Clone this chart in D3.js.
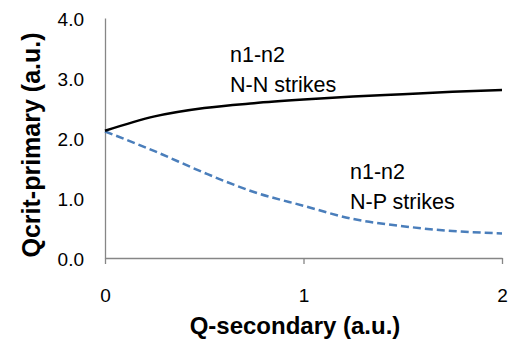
<!DOCTYPE html>
<html><head><meta charset="utf-8">
<script src="https://cdn.jsdelivr.net/npm/d3@7"></script>
<style>html,body{margin:0;padding:0;background:#fff;}svg{display:block;}</style>
</head><body>
<svg id="c" width="508" height="339"></svg>
<script>
const xValues = [0, 0.25, 0.5, 0.75, 1.0, 1.25, 1.5, 1.75, 2.0];
const nnValues = [2.12, 2.36, 2.50, 2.58, 2.64, 2.69, 2.73, 2.77, 2.80];
const npValues = [2.11, 1.78, 1.42, 1.10, 0.87, 0.65, 0.53, 0.45, 0.41];
const xTicks = [0, 1, 2];
const yTicks = [0, 1, 2, 3, 4];
const xTitle = "Q-secondary (a.u.)";
const yTitle = "Qcrit-primary (a.u.)";
const nnLabel = ["n1-n2", "N-N strikes"];
const npLabel = ["n1-n2", "N-P strikes"];

const svg = d3.select("#c");
const font = "'Liberation Sans', Arial, sans-serif";
const x = d3.scaleLinear().domain([0, 2]).range([105, 502]);
const y = d3.scaleLinear().domain([0, 4]).range([258, 18]);
const axisColor = "#868686";

// y axis (line only, labels)
const yAxis = d3.axisLeft(y).tickValues(yTicks).tickSize(0).tickPadding(21)
  .tickFormat(d3.format(".1f"));
const gy = svg.append("g").attr("transform", `translate(${x(0)},0)`).call(yAxis);
gy.select(".domain").attr("stroke", axisColor).attr("stroke-width", 1.3);
gy.selectAll("text").attr("font-family", font).attr("font-size", 19).attr("fill", "#000").attr("dy", "0.38em");

// x axis
const xAxis = d3.axisBottom(x).tickValues(xTicks).tickSize(6).tickSizeOuter(0).tickPadding(25)
  .tickFormat(d3.format("d"));
const gx = svg.append("g").attr("transform", `translate(0,${y(0)})`).call(xAxis);
gx.select(".domain").attr("stroke", axisColor).attr("stroke-width", 1.3);
gx.selectAll(".tick line").attr("stroke", axisColor).attr("stroke-width", 1.3);
gx.selectAll("text").attr("font-family", font).attr("font-size", 19).attr("fill", "#000");

// lines
const line = vals => d3.line().x((d, i) => x(xValues[i])).y(d => y(d)).curve(d3.curveMonotoneX)(vals);
svg.append("path").attr("d", line(npValues)).attr("fill", "none")
  .attr("stroke", "#4a7ebb").attr("stroke-width", 2.5).attr("stroke-dasharray", "8,4");
svg.append("path").attr("d", line(nnValues)).attr("fill", "none")
  .attr("stroke", "#000").attr("stroke-width", 2.5);

// annotations
function label(lines, xPos, yPos) {
  const t = svg.append("text").attr("font-family", font).attr("font-size", 21.5).attr("fill", "#000");
  lines.forEach((s, i) => t.append("tspan").attr("x", xPos).attr("y", yPos + i * 30).text(s));
}
label(nnLabel, 230, 62);
label(npLabel, 350, 179);

// axis titles
svg.append("text").attr("x", 295).attr("y", 334).attr("text-anchor", "middle")
  .attr("font-family", font).attr("font-weight", "bold").attr("font-size", 24).text(xTitle);
svg.append("text").attr("transform", "translate(40,145) rotate(-90)").attr("text-anchor", "middle")
  .attr("font-family", font).attr("font-weight", "bold").attr("font-size", 25).text(yTitle);
</script>
</body></html>
